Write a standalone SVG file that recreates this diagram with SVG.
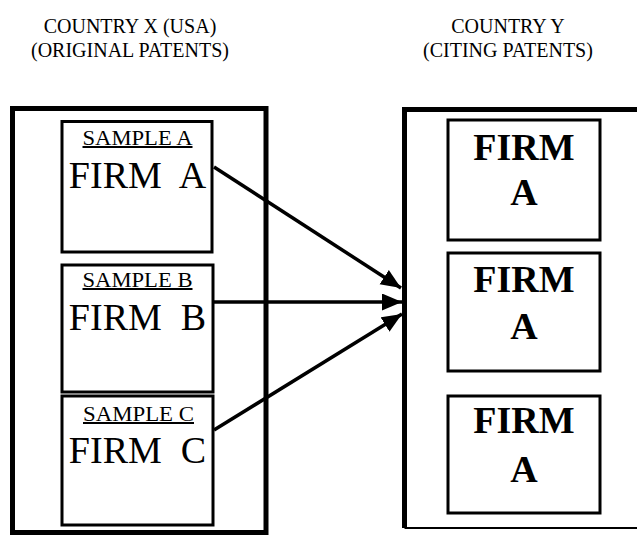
<svg xmlns="http://www.w3.org/2000/svg" width="637" height="536" viewBox="0 0 637 536">
  <style>
    .bg { fill: #ffffff; }
    .frame { fill: none; stroke: #000; stroke-width: 5; }
    .box { fill: none; stroke: #000; stroke-width: 3; }
    .head { font-family: "Liberation Serif", "Times New Roman", serif; font-size: 20px; fill: #000; text-anchor: middle; }
    .sample { font-family: "Liberation Serif", "Times New Roman", serif; font-size: 20px; fill: #000; text-anchor: middle; text-decoration: underline; }
    .firm { font-family: "Liberation Serif", "Times New Roman", serif; font-size: 38px; fill: #000; text-anchor: middle; white-space: pre; }
    .firmb { font-family: "Liberation Serif", "Times New Roman", serif; font-size: 38px; font-weight: bold; fill: #000; text-anchor: middle; }
    .link { fill: none; stroke: #000; stroke-width: 3.5; marker-end: url(#arrow); }
  </style>
  <defs>
    <marker id="arrow" markerUnits="userSpaceOnUse" markerWidth="22" markerHeight="18" refX="20" refY="8.5" orient="auto">
      <path d="M0,0 L20,8.5 L0,17 Z" fill="#000"/>
    </marker>
  </defs>

  <rect class="bg" x="0" y="0" width="637" height="536"/>

  <!-- column headings -->
  <g id="heading-x">
    <text class="head" x="130" y="33">COUNTRY X (USA)</text>
    <text class="head" x="130" y="57">(ORIGINAL PATENTS)</text>
  </g>
  <g id="heading-y">
    <text class="head" x="508" y="33">COUNTRY Y</text>
    <text class="head" x="508" y="57">(CITING PATENTS)</text>
  </g>

  <!-- country X container -->
  <g id="country-x">
    <rect class="frame" x="12.5" y="108.5" width="253.5" height="424"/>
  </g>

  <!-- country Y container (open on the right) -->
  <g id="country-y">
    <path d="M637,109.5 H404.5 V528" fill="none" stroke="#000" stroke-width="5"/>
    <path d="M404.5,528 H637" fill="none" stroke="#000" stroke-width="2"/>
  </g>

  <!-- original patents -->
  <g id="sample-a">
    <rect class="box" x="62" y="121.5" width="150" height="130.5"/>
    <text class="sample" x="137.5" y="145" textLength="110" lengthAdjust="spacingAndGlyphs">SAMPLE A</text>
    <text class="firm" x="137.5" y="188">FIRM  A</text>
  </g>
  <g id="sample-b">
    <rect class="box" x="62" y="265" width="151" height="127"/>
    <text class="sample" x="137.5" y="287" textLength="110" lengthAdjust="spacingAndGlyphs">SAMPLE B</text>
    <text class="firm" x="137.5" y="330">FIRM  B</text>
  </g>
  <g id="sample-c">
    <rect class="box" x="62" y="396" width="151" height="129"/>
    <text class="sample" x="138.5" y="421" textLength="111" lengthAdjust="spacingAndGlyphs">SAMPLE C</text>
    <text class="firm" x="137.5" y="463">FIRM  C</text>
  </g>

  <!-- citing patents -->
  <g id="citing-1">
    <rect class="box" x="448" y="120" width="152" height="120"/>
    <text class="firmb" x="524" y="160">FIRM</text>
    <text class="firmb" x="524" y="205">A</text>
  </g>
  <g id="citing-2">
    <rect class="box" x="448" y="253" width="152" height="118"/>
    <text class="firmb" x="524" y="292">FIRM</text>
    <text class="firmb" x="524" y="339">A</text>
  </g>
  <g id="citing-3">
    <rect class="box" x="448" y="396" width="152" height="117"/>
    <text class="firmb" x="524" y="433">FIRM</text>
    <text class="firmb" x="524" y="482">A</text>
  </g>

  <!-- citation links -->
  <g id="connectors">
    <line class="link" x1="214" y1="167" x2="401" y2="288"/>
    <line class="link" x1="213" y1="302" x2="402" y2="302"/>
    <line class="link" x1="214" y1="430" x2="402" y2="314"/>
  </g>
</svg>
